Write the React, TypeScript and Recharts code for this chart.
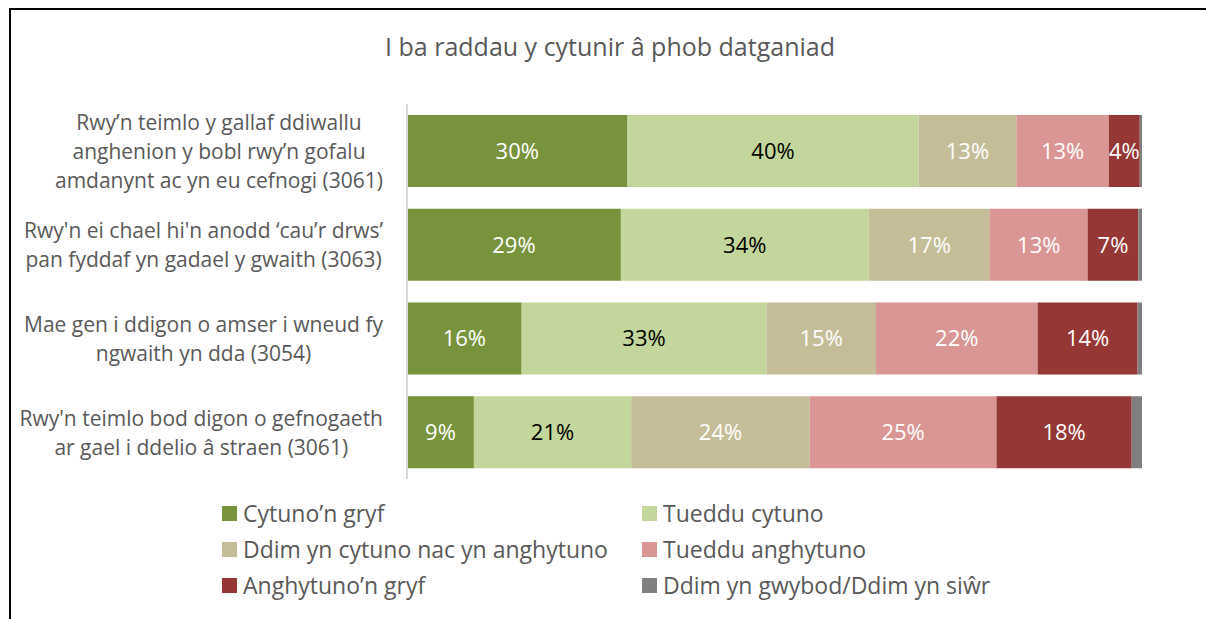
import React from "react"
import { BarChart, Bar, XAxis, YAxis, LabelList } from "recharts"

const categories = [
  "Rwy’n teimlo y gallaf ddiwallu\nanghenion y bobl rwy’n gofalu\namdanynt ac yn eu cefnogi (3061)",
  "Rwy'n ei chael hi'n anodd ‘cau’r drws’\npan fyddaf yn gadael y gwaith (3063)",
  "Mae gen i ddigon o amser i wneud fy\nngwaith yn dda (3054)",
  "Rwy'n teimlo bod digon o gefnogaeth\nar gael i ddelio â straen (3061)",
]

const seriesNames = [
  "Cytuno’n gryf",
  "Tueddu cytuno",
  "Ddim yn cytuno nac yn anghytuno",
  "Tueddu anghytuno",
  "Anghytuno’n gryf",
  "Ddim yn gwybod/Ddim yn siŵr",
]

const seriesColors = ["#77933c", "#c3d69b", "#c4bd97", "#d99694", "#953735", "#7f7f7f"]
const labelColors = ["#ffffff", "#000000", "#ffffff", "#ffffff", "#ffffff", null]

const cytunoGryf = [30.0, 29.1, 15.6, 9.1]
const tueddCytuno = [39.6, 33.7, 33.3, 21.4]
const niwtral = [13.3, 16.5, 14.9, 24.3]
const tueddAnghytuno = [12.6, 13.3, 22.0, 25.4]
const anghytunoGryf = [4.2, 6.9, 13.6, 18.4]
const ddimGwybod = [0.3, 0.5, 0.6, 1.4]

const seriesValues = [cytunoGryf, tueddCytuno, niwtral, tueddAnghytuno, anghytunoGryf, ddimGwybod]
const keys = ["s0", "s1", "s2", "s3", "s4", "s5"]

const data = categories.map((name, i) => {
  const row: any = { name }
  keys.forEach((k, j) => { row[k] = seriesValues[j][i] })
  return row
})

const FONT = "'Open Sans', sans-serif"
const TEXT = "#595959"

let ctx: CanvasRenderingContext2D | null = null
const measure = (s: string, font: string) => {
  if (!ctx) ctx = document.createElement("canvas").getContext("2d")
  if (!ctx) return s.length * 10
  ctx.font = font
  return ctx.measureText(s).width
}

const CategoryTick = (props: any) => {
  const { y, payload } = props
  const lines = String(payload.value).split("\n")
  const size = 21
  const widest = Math.max(...lines.map((l) => measure(l, `${size}px 'Open Sans'`)))
  const cx = 383 - widest / 2
  const lh = 29
  return (
    <text x={cx} y={y} textAnchor="middle" fill={TEXT} fontSize={size} fontFamily={FONT}>
      {lines.map((l, i) => (
        <tspan key={i} x={cx} y={y + (i - (lines.length - 1) / 2) * lh} dominantBaseline="central">
          {l}
        </tspan>
      ))}
    </text>
  )
}

const LegendBlock = () => (
  <div style={{ position: "absolute", left: 0, top: 501, width: 1206, height: 110, fontFamily: FONT }}>
    {seriesNames.map((n, i) => (
      <div
        key={n}
        style={{
          position: "absolute",
          left: i % 2 === 0 ? 222 : 642,
          top: Math.floor(i / 2) * 36,
          height: 24,
          display: "flex",
          alignItems: "center",
          fontSize: 23,
          color: TEXT,
          whiteSpace: "nowrap",
        }}
      >
        <span style={{ width: 15, height: 15, background: seriesColors[i], marginRight: 6, display: "inline-block", flexShrink: 0 }} />
        {n}
      </div>
    ))}
  </div>
)

export default function App() {
  return (
    <div style={{ position: "absolute", left: 0, top: 0, width: 1206, height: 619, background: "#fff", overflow: "hidden" }}>
      <div
        style={{
          position: "absolute",
          left: 9,
          top: 8,
          width: 1300,
          height: 700,
          borderTop: "2.5px solid #000",
          borderLeft: "2.5px solid #000",
        }}
      />
      <div
        style={{
          position: "absolute",
          left: 0,
          width: 1206,
          top: 29,
          textAlign: "center",
          paddingLeft: 14,
          fontFamily: FONT,
          fontSize: 25,
          color: TEXT,
          boxSizing: "border-box",
        }}
      >
        I ba raddau y cytunir â phob datganiad
      </div>
      <div style={{ position: "absolute", left: 0, top: 0 }}>
        <BarChart
          width={1206}
          height={619}
          data={data}
          layout="vertical"
          margin={{ top: 104, right: 64, bottom: 140, left: 0 }}
          barSize={72}
        >
          <XAxis type="number" domain={[0, 100]} hide />
          <YAxis
            type="category"
            dataKey="name"
            width={407}
            axisLine={{ stroke: "#d9d9d9", strokeWidth: 2 }}
            tickLine={false}
            tick={<CategoryTick />}
            interval={0}
          />
          {keys.map((k, j) => (
            <Bar key={k} dataKey={k} name={seriesNames[j]} stackId="a" fill={seriesColors[j]} isAnimationActive={false}>
              {labelColors[j] && (
                <LabelList
                  dataKey={k}
                  position="center"
                  formatter={(v: any) => `${Math.round(Number(v))}%`}
                  fill={labelColors[j] as string}
                  fontSize={22}
                  fontFamily={FONT}
                />
              )}
            </Bar>
          ))}
        </BarChart>
      </div>
      <LegendBlock />
    </div>
  )
}
